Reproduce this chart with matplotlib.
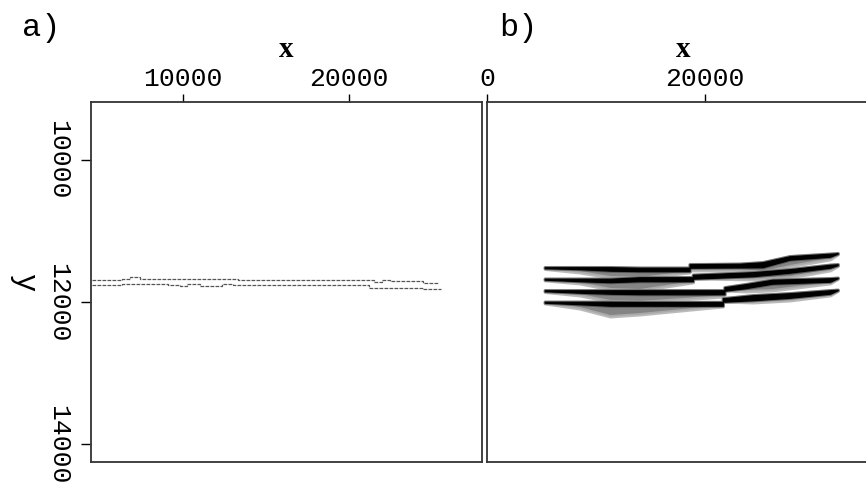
import matplotlib.pyplot as plt

# panel a: two picked horizons (x, depth), drawn as steps
top_x = [4450, 6300, 6800, 7400, 13300, 21500, 22000, 22500, 24500, 25450]
top_y = [11690, 11666, 11644, 11672, 11690, 11714, 11690, 11708, 11728, 11728]
bot_x = [4450, 6300, 9090, 9820, 10240, 11030, 12360, 13030, 21210, 24480, 25570]
bot_y = [11761, 11742, 11761, 11775, 11746, 11765, 11746, 11761, 11793, 11813, 11813]

# panel b: four reflection events, each with a top edge, the base of the
# strong (black) lobe and the base of the weaker smeared energy
ev_x = [
    [5300, 8500, 11300, 14000, 18600, 18600, 23200, 25300, 27800, 31500, 32200],
    [5300, 8500, 11300, 14000, 18900, 18900, 24400, 27800, 31500, 32200],
    [5300, 8500, 11300, 14000, 21800, 21800, 23700, 26200, 31500, 32200],
    [5300, 8500, 11300, 14000, 21650, 21650, 24400, 27800, 31500, 32200],
]
ev_top = [
    [11507, 11507, 11507, 11514, 11514, 11465, 11458, 11437, 11352, 11317, 11310],
    [11669, 11669, 11669, 11648, 11648, 11613, 11577, 11535, 11472, 11465],
    [11831, 11831, 11831, 11831, 11831, 11789, 11746, 11683, 11662, 11655],
    [11993, 11993, 11993, 11996, 11996, 11944, 11901, 11873, 11831, 11824],
]
ev_black = [
    [11521, 11535, 11556, 11563, 11563, 11514, 11510, 11507, 11401, 11359, 11317],
    [11683, 11704, 11718, 11704, 11704, 11669, 11634, 11584, 11514, 11479],
    [11845, 11866, 11880, 11887, 11887, 11838, 11803, 11739, 11711, 11662],
    [12007, 12028, 12049, 12049, 12049, 11993, 11972, 11937, 11880, 11831],
]
ev_smear = [
    [11528, 11578, 11648, 11662, 11577, 11549, 11549, 11577, 11493, 11394, 11324],
    [11690, 11732, 11817, 11831, 11718, 11662, 11676, 11648, 11549, 11486],
    [11852, 11901, 11986, 12000, 11915, 11831, 11845, 11831, 11732, 11669],
    [12014, 12085, 12197, 12169, 12056, 11986, 12000, 11972, 11901, 11838],
]

xlim_a = (4420, 28060)
xlim_b = (0, 36000)
ylim = (14254, 9183)

tickfont = dict(family="Liberation Mono", size=19)
labfont = dict(family="Liberation Serif", size=21, weight="bold")

fig = plt.figure(figsize=(8.66, 4.92), dpi=100)
axa = fig.add_axes([0.1051, 0.0600, 0.4515, 0.7327])
axb = fig.add_axes([0.5624, 0.0600, 0.4527, 0.7327])

for ax in (axa, axb):
    for s in ax.spines.values():
        s.set_color("#333333")
        s.set_linewidth(1.3)
    ax.set_ylim(*ylim)
    ax.xaxis.set_label_position("top")
    ax.tick_params(axis="x", top=True, bottom=False, labeltop=True,
                   labelbottom=False, direction="out", length=6, width=1,
                   pad=2)

# horizons
axa.plot(top_x, top_y, drawstyle="steps-post", color="#555555", lw=0.9,
         ls=(0, (3, 1)))
axa.plot(bot_x, bot_y, drawstyle="steps-post", color="#555555", lw=0.9,
         ls=(0, (3, 1)))
axa.set_xlim(*xlim_a)
axa.set_xticks([10000, 20000])
axa.set_xticklabels(["10000", "20000"], fontdict=tickfont)
axa.set_yticks([10000, 12000, 14000])
axa.set_yticklabels(["10000", "12000", "14000"], fontdict=tickfont,
                    rotation=-90, va="center")
axa.tick_params(axis="y", direction="out", length=7, width=1, pad=8)
axa.set_xlabel("x", fontdict=labfont, labelpad=7)
axa.set_ylabel("y", family="Liberation Mono", size=22, rotation=-90,
               va="center", labelpad=16)

# events: smeared energy under the black lobes, with a soft halo
for x, t, s in zip(ev_x, ev_top, ev_smear):
    axb.fill_between(x, t, s, color="#6e6e6e", lw=2.5, edgecolor="#b0b0b0",
                     alpha=0.85)
for x, t, b in zip(ev_x, ev_top, ev_black):
    axb.fill_between(x, t, b, color="#3a3a3a", lw=2.2, edgecolor="#3a3a3a",
                     alpha=0.6)
    axb.fill_between(x, t, b, color="black", lw=0.8, edgecolor="black")
axb.set_xlim(*xlim_b)
axb.set_xticks([0, 20000])
axb.set_xticklabels(["0", "20000"], fontdict=tickfont)
axb.set_yticks([])
axb.set_xlabel("x", fontdict=labfont, labelpad=7)

fig.text(0.025, 0.944, "a)", family="Liberation Mono", size=23,
         va="center", ha="left")
fig.text(0.577, 0.944, "b)", family="Liberation Mono", size=23,
         va="center", ha="left")

fig.savefig("out.png", dpi=100)
